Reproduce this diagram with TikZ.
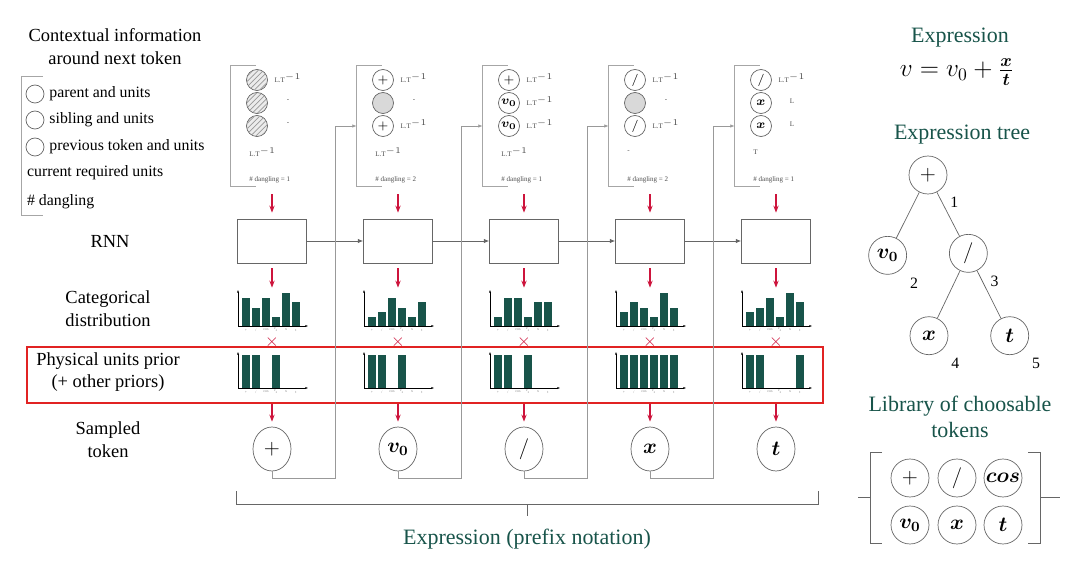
\documentclass[tikz,border=0pt]{standalone}
\usepackage{amsmath,amssymb,bm}
\usepackage{fontspec}
\setmainfont{Liberation Serif}
\usetikzlibrary{shapes.geometric, arrows.meta, positioning, calc, patterns}
\definecolor{tealdark}{RGB}{24,84,74}
\definecolor{crim}{RGB}{205,20,60}
\definecolor{boxred}{RGB}{225,35,35}
\newcommand{\lunit}{L.T$^{-1}$}
\newcommand{\dv}{/}
\tikzset{
	tok/.style={ellipse, draw, gray!80!black, text=black, thin, minimum width=0.76cm, minimum height=0.88cm, inner sep=0pt, font=\fontsize{12}{12}\selectfont},
	tcirc/.style={circle, draw, gray!80!black, text=black, thin, minimum size=0.76cm, inner sep=0pt, font=\fontsize{12}{12}\selectfont},
	ccirc/.style={circle, draw, gray!80!black, text=black, thin, minimum size=0.42cm, inner sep=0pt, font=\fontsize{7}{7}\selectfont},
	lgcirc/.style={circle, draw, gray!80!black, thin, minimum size=0.36cm, inner sep=0pt},
	rnnbox/.style={rectangle, draw, gray!80!black, thin, minimum width=1.38cm, minimum height=0.88cm},
	redarrow/.style={-{Stealth[length=4pt,width=3pt]}, crim, line width=0.7pt},
	loopline/.style={gray!80, thin, -{Latex[length=2.5pt,width=2pt]}},
	axis/.style={black, very thin, -{Latex[length=1.5pt,width=1.2pt]}},
	lbl/.style={align=center, font=\fontsize{10.5}{13}\selectfont},
	lgtxt/.style={inner sep=1pt, font=\fontsize{9}{11}\selectfont},
	ttl/.style={align=center, text=tealdark, font=\fontsize{12.5}{15}\selectfont},
	units/.style={inner sep=0pt, font=\fontsize{4}{5}\selectfont, text=black!70},
	ticklbl/.style={inner sep=0pt, font=\fontsize{2.2}{2.5}\selectfont, text=gray},
	numlbl/.style={label distance=0.07cm, font=\small}
}
\begin{document}
\begin{tikzpicture}[x=0.02cm, y=-0.02cm, >={Latex[length=3pt,width=2.5pt]}]
	\useasboundingbox (0,0) rectangle (1080,571);
	\node[lbl] (ctxlbl) at (115,47) {Contextual information\\around next token};
	\draw[gray!70] (43,76) -| (21,215) -- (43,215);
	\node[lgcirc] (lgpar) at (35,94) {};
	\node[lgcirc] (lgsib) at (35,120) {};
	\node[lgcirc] (lgprv) at (35,147) {};
	\node[lgtxt, right=0.06cm of lgpar] (lgpartxt) {parent and units};
	\node[lgtxt, right=0.06cm of lgsib] (lgsibtxt) {sibling and units};
	\node[lgtxt, right=0.06cm of lgprv] (lgprvtxt) {previous token and units};
	\node[lgtxt, anchor=west] (lgreq) at (25,173) {current required units};
	\node[lgtxt, anchor=west] (lgdang) at (25,202) {\# dangling};
	\node[lbl] (rnnlbl) at (110,241) {RNN};
	\node[lbl] (catlbl) at (108,309) {Categorical\\distribution};
	\node[lbl] (prilbl) at (108,372) {Physical units prior\\(+ other priors)};
	\node[lbl] (toklbl) at (108,440) {Sampled\\token};

	\foreach \cx/\fa/\ta/\ua/\fb/\tb/\ub/\fc/\tc/\uc/\req/\dang [count=\i] in {
			272/gray!15/{}/\lunit/gray!15/{}/-/gray!15/{}/-/\lunit/1,
			398/white/{$+$}/\lunit/gray!30/{}/-/white/{$+$}/\lunit/\lunit/2,
			524/white/{$+$}/\lunit/white/{$\bm{v_0}$}/\lunit/white/{$\bm{v_0}$}/\lunit/\lunit/1,
			650/white/{$\dv$}/\lunit/gray!30/{}/-/white/{$\dv$}/\lunit/-/2,
			776/white/{$\dv$}/\lunit/white/{$\bm{x}$}/L/white/{$\bm{x}$}/L/T/1} {
		\node[minimum width=1.64cm, minimum height=2.4cm, inner sep=0pt] (ctx\i) at (\cx,126) {};
		\draw[gray!70] ($(ctx\i.north west)+(25,0)$) -- (ctx\i.north west) -- (ctx\i.south west) -- ++(25,0);
		\node[ccirc, fill=\fa] (par\i) at (\cx-15,80) {\ta};
		\node[ccirc, fill=\fb] (sib\i) at (\cx-15,103) {\tb};
		\node[ccirc, fill=\fc] (prv\i) at (\cx-15,126) {\tc};
		\node[units] (upar\i) at (\cx+16,78) {\ua};
		\node[units] (usib\i) at (\cx+16,101) {\ub};
		\node[units] (uprv\i) at (\cx+16,124) {\uc};
		\node[units, anchor=west] (ureq\i) at (\cx-23,152) {\req};
		\node[units, anchor=west] (udang\i) at (\cx-23,180) {\# dangling = \dang};
	}
	\foreach \n in {par1,sib1,prv1}
		\path[pattern=north east lines, pattern color=gray!80] (\n.center) circle (0.2cm);

	\foreach \cx/\tk/\hs/\ps [count=\i] in {
			272/{$+$}/{28,18,28,9,33,24}/{1,2,4},
			398/{$\bm{v_0}$}/{9,14,28,18,9,24}/{1,2,4},
			524/{$\dv$}/{9,28,28,9,24,24}/{1,2,4},
			650/{$\bm{x}$}/{14,24,18,9,33,18}/{1,2,3,4,5,6},
			776/{$\bm{t}$}/{14,18,28,9,33,24}/{1,2,6}} {
		\node[rnnbox] (rnn\i) at (\cx,241) {};
		\node[minimum width=1.4cm, minimum height=0.72cm, inner sep=0pt] (cat\i) at (\cx,309) {};
		\foreach \h [count=\k] in \hs
			\fill[tealdark] (\cx-40+10*\k,326) rectangle ++(7.5,-\h);
		\draw[axis] (\cx-34,326) -- (\cx+36,326);
		\draw[axis] (\cx-34,326) -- (\cx-34,290);
		\foreach \t [count=\k] in {+,\dv,cos,v\textsubscript{0},x,t}
			\node[ticklbl] (cl\i-\k) at (\cx-36+10*\k,330) {\t};
		\node[text=crim, inner sep=0pt] (mul\i) at (\cx,342) {$\times$};
		\node[minimum width=1.4cm, minimum height=1.14cm, inner sep=0pt] (pri\i) at (\cx,374.5) {};
		\foreach \k in \ps
			\fill[tealdark] (\cx-40+10*\k,388) rectangle ++(7.5,-33);
		\draw[axis] (\cx-34,388) -- (\cx+36,388);
		\draw[axis] (\cx-34,388) -- (\cx-34,352);
		\foreach \t [count=\k] in {+,\dv,cos,v\textsubscript{0},x,t}
			\node[ticklbl] (pl\i-\k) at (\cx-36+10*\k,392) {\t};
		\node[tok] (tok\i) at (\cx,449) {\tk};
		\draw[redarrow, shorten <=0.16cm, shorten >=0.12cm] (ctx\i.south) -- (rnn\i.north);
		\draw[redarrow, shorten <=0.1cm, shorten >=0.06cm] (rnn\i.south) -- (cat\i.north);
		\draw[redarrow, shorten >=0.1cm] (pri\i.south) -- (tok\i.north);
	}
	\draw[boxred, semithick] (27,347) rectangle (823,403);
	\foreach \from/\to in {1/2,2/3,3/4,4/5}
		\draw[->, gray!80!black, thin] (rnn\from) -- (rnn\to);
	\foreach \from/\to in {1/2,2/3,3/4,4/5}
		\draw[loopline] (tok\from.south) |- ($(tok\from.south)+(63,7)$) |- (prv\to -| ctx\to.west);

	\draw[gray!80!black] (236,491) -- (236,504) -- (818,504) -- (818,491);
	\draw[gray!80!black] (527,504) -- (527,516);
	\node[ttl] (prefix) at (527,539) {Expression (prefix notation)};

	\node[ttl] (exprlbl) at (960,38) {Expression};
	\node[font=\fontsize{14}{16}\selectfont] (expr) at (957,72) {$v = v_0 + \frac{\bm{x}}{\bm{t}}$};
	\node[ttl] (treelbl) at (962,135) {Expression tree};
	\node[tcirc, label={[numlbl]-45:1}] (root) at (928,175) {$+$};
	\node[tcirc, below left=1.06cm and 0.26cm of root, label={[numlbl]-45:2}] (tv) {$\bm{v_0}$};
	\node[tcirc, below right=1.02cm and 0.26cm of root, label={[numlbl]-45:3}] (tdiv) {$\dv$};
	\node[tcirc, below left=1.1cm and 0.24cm of tdiv, label={[numlbl]-45:4}] (tx) {$\bm{x}$};
	\node[tcirc, below right=1.1cm and 0.28cm of tdiv, label={[numlbl]-45:5}] (tt) {$\bm{t}$};
	\foreach \from/\to in {root/tv,root/tdiv,tdiv/tx,tdiv/tt}
		\draw[gray!80!black] (\from) -- (\to);

	\node[ttl] (liblbl) at (960,417) {Library of choosable\\tokens};
	\node[tcirc] (lplus) at (910,478) {$+$};
	\node[tcirc] (ldiv) at (957,478) {$\dv$};
	\node[tcirc] (lcos) at (1003,478) {$\bm{cos}$};
	\node[tcirc] (lv) at (910,525) {$\bm{v_0}$};
	\node[tcirc] (lx) at (957,525) {$\bm{x}$};
	\node[tcirc] (lt) at (1003,525) {$\bm{t}$};
	\draw[gray!80!black] (882,452) -- (870,452) -- (870,543) -- (882,543);
	\draw[gray!80!black] (870,497) -- (858,497);
	\draw[gray!80!black] (1028,452) -- (1040,452) -- (1040,543) -- (1028,543);
	\draw[gray!80!black] (1040,497) -- (1060,497);
\end{tikzpicture}
\end{document}
